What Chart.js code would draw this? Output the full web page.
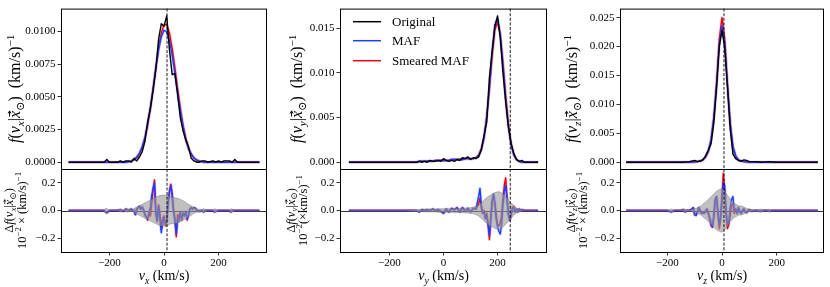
<!DOCTYPE html>
<html>
<head>
<meta charset="utf-8">
<script src="https://cdn.jsdelivr.net/npm/chart.js@4"></script>
<style>
  html, body { margin: 0; padding: 0; background: #fff; }
  #wrap { position: relative; width: 830px; height: 287px; }
  #wrap canvas { position: absolute; left: 0; top: 0; }
</style>
</head>
<body>
<div id="wrap">
  <canvas id="top1" width="830" height="287"></canvas>
  <canvas id="res1" width="830" height="287"></canvas>
  <canvas id="top2" width="830" height="287"></canvas>
  <canvas id="res2" width="830" height="287"></canvas>
  <canvas id="top3" width="830" height="287"></canvas>
  <canvas id="res3" width="830" height="287"></canvas>
</div>
<script>
// ---- data (km/s, (km/s)^-1) ----
const legendNames = ['Original', 'MAF', 'Smeared MAF'];
const sunV = [11.1, 247, 7.25];           // dashed lines
const xTicks = [-200, 0, 200];
const yTicksTop1 = [0, 0.0025, 0.005, 0.0075, 0.01];
const yTicksTop2 = [0, 0.005, 0.01, 0.015];
const yTicksTop3 = [0, 0.005, 0.01, 0.015, 0.02, 0.025];
const yTicksRes = [-0.2, 0, 0.2];

// v_x
const vx1Top = [-350,-300,-250,-220,-210,-200,-170,-160,-150,-140,-130,-120,-110,
  -100,-90,-80,-70,-60,-50,-40,-30,-20,-10,0,10,20,30,40,50,60,70,80,90,100,110,120,130,
  140,150,160,180,190,200,210,220,240,250,260,270,300,350];
const orig1 = [0,0,0,0,0.0002,0,0,0.0001,0,0.0001,0.0001,0,0.0003,
  0.0001,0.0004,0.0008,0.0016,0.0031,0.0041,0.0055,0.0071,0.0094,0.0106,0.0104,0.0112,0.0086,0.0067,0.0068,0.0052,0.0034,0.0024,0.0017,0.0012,0.0003,0.0001,0,0,
  0.0001,0.0001,0,0.0001,0,0.0001,0,0.0001,0.0001,0,0.0002,0,0,0];
const maf1 = [0,0,0,0,0,0,0,0,0,0,0.00004,0.0001,0.0002,
  0.0004,0.0007,0.0012,0.0019,0.0029,0.0042,0.0056,0.0072,0.0086,0.0096,0.0101,0.0100,0.0093,0.0082,0.0068,0.0053,0.0039,0.0027,0.0017,0.0010,0.0006,0.0003,0.00015,0.00007,
  0.00003,0,0,0,0,0,0,0,0,0,0,0,0,0];
const smear1 = [0,0,0,0,0,0,0,0,0,0,0.00004,0.00008,0.00017,
  0.00034,0.00063,0.00111,0.00183,0.00283,0.00412,0.00563,0.00723,0.00872,0.00988,0.01052,0.01052,0.00988,0.00872,0.00723,0.00563,0.00412,0.00283,0.00183,0.00111,0.00063,0.00034,0.00017,0.00008,
  0.00004,0,0,0,0,0,0,0,0,0,0,0,0,0];

const vx1Res = [-350,-300,-250,-220,-215,-210,-200,-170,-160,-150,-140,-130,-120,
  -115,-110,-105,-100,-95,-90,-85,-80,-75,-70,
  -65,-60,-55,-50,-45,-40,-35,-30,-25,-20,
  -15,-10,-5,0,5,10,15,20,25,30,
  35,40,45,50,55,60,65,70,75,80,
  85,90,95,100,105,110,115,
  120,130,140,145,150,160,180,185,190,200,240,245,250,260,300,350];
const band1 = [0,0,0,0,0.015,0.015,0,0,0.01,0,0.01,0.01,0.005,
  0.008,0.015,0.02,0.025,0.03,0.035,0.04,0.045,0.05,0.055,
  0.06,0.065,0.07,0.075,0.08,0.085,0.09,0.095,0.1,0.105,
  0.108,0.11,0.11,0.11,0.11,0.112,0.108,0.1,0.097,0.095,
  0.094,0.092,0.09,0.088,0.085,0.08,0.075,0.07,0.065,0.058,
  0.05,0.045,0.04,0.035,0.028,0.022,0.016,
  0.012,0.008,0.006,0.015,0.008,0,0,0.012,0.01,0,0,0.012,0.01,0,0,0];
const dMaf1 = [0,0,0,0,-0.01,-0.016,0,0,0.005,-0.005,0.01,0,0.01,
  0,0,-0.03,0.01,0.02,0.03,0.01,0.025,0.005,-0.03,
  -0.05,-0.06,-0.01,0.02,0.11,0.16,0.2,-0.02,-0.07,0.03,
  -0.06,-0.16,-0.1,-0.05,-0.09,-0.07,0.04,0.13,0.18,0.11,
  0,-0.07,-0.17,-0.06,-0.08,-0.02,-0.06,-0.02,-0.04,-0.01,
  -0.06,-0.03,0.01,0.02,0.01,0.02,0.015,
  0,-0.005,0,-0.01,0,0,0,-0.01,-0.005,0,0,-0.01,0,0,0,0];
const dSmear1 = [0,0,0,0,-0.01,-0.016,0,0,0.005,-0.005,0.01,0,0.01,
  0,0,-0.03,0.01,0.02,0.03,0.01,0.025,0.005,-0.03,
  -0.05,-0.07,-0.02,-0.04,0.05,0.15,0.22,-0.02,-0.08,0.04,
  -0.03,-0.12,-0.06,-0.04,-0.11,-0.08,0.05,0.14,0.19,0.12,
  0,-0.06,-0.19,-0.03,-0.05,-0.01,-0.07,-0.02,-0.04,-0.01,
  -0.07,-0.03,0.01,0.02,0.01,0.02,0.015,
  0,-0.005,0,-0.01,0,0,0,-0.01,-0.005,0,0,-0.01,0,0,0,0];

// v_y
const vy2Top = [-350,-300,-250,-200,-150,-100,
  -90,-80,-70,-60,-50,-40,-30,-20,-10,0,10,20,30,40,50,60,70,80,90,100,110,120,130,140,
  150,160,170,180,190,200,210,220,230,240,250,260,270,280,290,300,350];
const orig2 = [0,0,0,0,0,0,
  0.0001,0,0.0001,0,0.0002,0.0001,0.0001,0.0002,0.0001,0.0004,0.0002,0.0001,0.0002,0.0001,0.0003,0.0002,0.0005,0.0004,0.0006,0.0003,0.0005,0.0004,0.0006,0.0014,
  0.0030,0.0045,0.0095,0.0124,0.0152,0.0164,0.0140,0.0101,0.0068,0.0040,0.0021,0.0010,0.0003,0.0001,0.0002,0,0];
const maf2 = [0,0,0,0,0,0,
  0.0001,0.0001,0.0001,0.0001,0.0001,0.0001,0.0002,0.0002,0.0002,0.0002,0.0002,0.0002,0.0003,0.0003,0.0003,0.0003,0.0003,0.0004,0.0004,0.0004,0.0004,0.0005,0.0007,0.0014,
  0.0027,0.0051,0.0085,0.0124,0.0154,0.0161,0.0143,0.0108,0.0071,0.0040,0.0020,0.0008,0.0003,0.0001,0,0,0];
const smear2 = [0,0,0,0,0,0,
  0.0001,0.0001,0.0001,0.0001,0.0001,0.0001,0.0002,0.0002,0.0002,0.0002,0.0002,0.0002,0.0003,0.0003,0.0003,0.0003,0.0003,0.0004,0.0004,0.0004,0.0004,0.0005,0.0008,0.0015,
  0.0028,0.0051,0.0082,0.0119,0.0148,0.0157,0.0143,0.0112,0.0075,0.0043,0.0021,0.0009,0.0003,0.0001,0,0,0];

const vy2Res = [-350,-300,-250,-200,-150,-100,
  -90,-80,-70,-60,-50,-40,-30,-20,-10,0,10,20,30,40,50,60,70,80,90,100,110,120,130,
  135,140,145,150,155,160,165,170,175,180,
  185,190,195,200,205,210,215,220,225,230,
  235,240,245,250,255,260,265,270,275,280,
  285,290,300,350];
const band2 = [0,0,0,0,0,0.005,
  0.008,0.008,0.008,0.01,0.01,0.01,0.01,0.012,0.012,0.012,0.012,0.012,0.013,0.014,0.015,0.015,0.016,0.017,0.018,0.02,0.024,0.03,0.04,
  0.048,0.055,0.065,0.075,0.085,0.092,0.1,0.106,0.112,0.118,
  0.123,0.128,0.132,0.135,0.135,0.132,0.127,0.12,0.11,0.1,
  0.09,0.08,0.068,0.056,0.045,0.035,0.026,0.018,0.012,0.008,
  0.008,0.005,0,0];
const dMaf2 = [0,0,0,0,0,0,
  -0.01,0.005,0,0.005,0,0.01,0,0.005,-0.005,-0.02,0.01,-0.01,0.015,0.005,0.02,-0.01,0.02,-0.005,0.015,-0.01,0.015,0.01,0.1,
  0.16,0.04,-0.02,-0.01,-0.06,-0.04,-0.1,-0.18,-0.07,0.07,
  0.12,0.06,-0.06,-0.12,-0.15,-0.17,-0.1,0.04,0.14,0.18,
  0.08,-0.03,-0.07,-0.03,0.02,0.02,-0.01,0.01,-0.01,0.01,
  0,0.005,0,0];
const dSmear2 = [0,0,0,0,0,0,
  -0.01,0.005,0,0.005,0,0.01,0,0.005,-0.005,-0.02,0.01,-0.01,0.015,0.005,0.02,-0.01,0.02,-0.005,0.015,-0.01,0.015,0.01,0.05,
  0.09,0.02,-0.02,0,-0.05,-0.02,-0.1,-0.21,-0.05,0.06,
  0.11,0.05,-0.04,-0.1,-0.11,-0.09,-0.04,0.08,0.18,0.235,
  0.1,-0.03,-0.07,-0.04,0.02,0.03,-0.01,0.01,-0.01,0.01,
  0,0.005,0,0];

// v_z
const vz3Top = [-350,-300,-250,-200,-150,
  -120,-100,-90,-80,-70,-60,-50,-40,-30,-20,-10,0,10,20,30,40,50,60,70,80,90,100,
  120,150,170,200,250,300,350];
const orig3 = [0,0,0,0,0,
  0.0001,0.0003,0.0001,0.0002,0.0004,0.0011,0.0021,0.0032,0.0068,0.0128,0.0200,0.0228,0.0198,0.0130,0.0058,0.0014,0.0006,0.0003,0.0002,0.0004,0.0003,0.0001,
  0.0001,0,0.0001,0,0,0,0];
const maf3 = [0,0,0,0,0,
  0,0.00005,0.0001,0.0002,0.0004,0.0009,0.0019,0.0039,0.0077,0.0133,0.0202,0.0236,0.0206,0.0134,0.0068,0.0027,0.0011,0.0004,0.0002,0.0001,0.00005,0,
  0,0,0,0,0,0,0];
const smear3 = [0,0,0,0,0,
  0,0.00005,0.0001,0.0002,0.0004,0.0009,0.0018,0.0038,0.0076,0.0136,0.0212,0.0250,0.0213,0.0134,0.0066,0.0026,0.0010,0.0004,0.0002,0.0001,0.00005,0,
  0,0,0,0,0,0,0];

const vz3Res = [-350,-300,-250,-200,-185,-180,-175,-150,-140,-135,-130,-120,-110,
  -105,-100,-95,-90,-85,-80,-75,-70,-65,-60,
  -55,-50,-45,-40,-35,-30,-25,-20,-15,-10,
  -5,0,5,10,15,20,25,30,35,40,
  45,50,55,60,65,70,75,80,85,90,
  95,100,105,110,115,120,
  130,140,150,160,170,175,180,200,250,300,350];
const band3 = [0,0,0,0,0.01,0.008,0,0,0.005,0.01,0.005,0.004,0.005,
  0.01,0.012,0.015,0.02,0.025,0.03,0.035,0.045,0.055,0.06,
  0.07,0.08,0.09,0.1,0.11,0.12,0.13,0.14,0.145,0.15,
  0.155,0.155,0.15,0.14,0.125,0.11,0.095,0.08,0.07,0.06,
  0.05,0.045,0.04,0.035,0.032,0.033,0.03,0.025,0.02,0.015,
  0.012,0.01,0.008,0.006,0.005,0.004,
  0.006,0.01,0.005,0,0.008,0.01,0,0,0,0,0];
const dMaf3 = [0,0,0,0,-0.01,-0.005,0,0,0.005,-0.01,0,0,0.01,
  0.02,-0.03,-0.035,-0.01,0.02,0,-0.02,-0.015,-0.02,-0.005,
  0.01,-0.02,-0.05,-0.09,-0.12,-0.04,0.07,0.1,0,-0.1,
  -0.04,0.08,0.2,0.18,0,-0.1,-0.08,0.02,0.08,0.1,
  0,0.01,-0.02,0.02,-0.01,-0.02,0,0.01,-0.01,-0.015,
  0,0.005,0,-0.005,0,0,
  0,-0.005,0,0,0,-0.005,0,0,0,0,0];
const dSmear3 = [0,0,0,0,-0.01,-0.005,0,0,0.005,-0.01,0,0,0.01,
  0.02,-0.03,-0.035,-0.01,0.02,0,-0.02,-0.015,-0.02,-0.005,
  0.01,-0.02,-0.06,-0.11,-0.12,-0.05,0.08,0.1,-0.03,-0.13,
  -0.06,0.1,0.27,0.12,-0.03,-0.13,-0.1,-0.03,0.04,0.05,
  -0.02,0.01,-0.02,0.02,-0.01,-0.02,0,0.01,-0.01,-0.015,
  0,0.005,0,-0.005,0,0,
  0,-0.005,0,0,0,-0.005,0,0,0,0,0];

// ---- look ----
const BLUE = '#1f3dff', RED = '#f00010';
const FAM = '"Liberation Serif", "DejaVu Serif", serif';
const tickFont = { family: FAM, size: 11 };
const AXW = 50, XAXH = 30;
const TOP_Y = [4, 169], RES_Y = [169, 252];

const panels = [
  { n: 1, c: 'x', left: 61, right: 267, xr: 378, v: vx1Top, orig: orig1, maf: maf1, smear: smear1,
    yt: yTicksTop1, dig: 4, ymin: -0.00052, ymax: 0.01176,
    rv: vx1Res, band: band1, dMaf: dMaf1, dSmear: dSmear1,
    topLabX: 15, resLabX: [9, 21.5], unit2: 'x' },
  { n: 2, c: 'y', left: 340, right: 547, xr: 383, v: vy2Top, orig: orig2, maf: maf2, smear: smear2,
    yt: yTicksTop2, dig: 3, ymin: -0.00076, ymax: 0.01721,
    rv: vy2Res, band: band2, dMaf: dMaf2, dSmear: dSmear2,
    topLabX: 297, resLabX: [290.5, 303], unit2: 'in' },
  { n: 3, c: 'z', left: 620, right: 824, xr: 373, v: vz3Top, orig: orig3, maf: maf3, smear: smear3,
    yt: yTicksTop3, dig: 3, ymin: -0.00118, ymax: 0.02656,
    rv: vz3Res, band: band3, dMaf: dMaf3, dSmear: dSmear3,
    topLabX: 572, resLabX: [570.5, 583], unit2: 'x' }
];

const pts = (xs, ys) => xs.map((x, i) => ({ x: x, y: ys[i] }));
const fmt = (v, d) => Number(v).toFixed(d).replace('-', '\u2212');

// rich text: kinds r, i, i_ (italic sub), r_ (roman sub), r^ (roman sup), iv (italic + vector arrow)
function drawRich(ctx, parts, size, cx, cy, rot) {
  ctx.save();
  ctx.translate(cx, cy);
  ctx.rotate(rot);
  const items = parts.map(([t, k]) => {
    const small = k.endsWith('_') || k.endsWith('^');
    const font = (k[0] === 'i' ? 'italic ' : '') + (small ? size * 0.7 : size) + 'px ' + FAM;
    const dy = k.endsWith('_') ? size * 0.22 : k.endsWith('^') ? -size * 0.4 : 0;
    ctx.font = font;
    return { t, k, font, dy, w: ctx.measureText(t).width };
  });
  const total = items.reduce((s, it) => s + it.w, 0);
  let x = -total / 2;
  const base = size * 0.32;
  ctx.fillStyle = '#000';
  ctx.strokeStyle = '#000';
  ctx.textAlign = 'left';
  ctx.textBaseline = 'alphabetic';
  items.forEach(it => {
    ctx.font = it.font;
    ctx.fillText(it.t, x, base + it.dy);
    if (it.k === 'iv') {
      const ay = base - size * 0.66, x0 = x + it.w * 0.2, x1 = x + it.w * 1.0;
      ctx.lineWidth = size * 0.06;
      ctx.beginPath();
      ctx.moveTo(x0, ay); ctx.lineTo(x1, ay);
      ctx.moveTo(x1 - size * 0.16, ay - size * 0.09); ctx.lineTo(x1, ay); ctx.lineTo(x1 - size * 0.16, ay + size * 0.09);
      ctx.stroke();
    }
    x += it.w;
  });
  ctx.restore();
}

const decoInfo = {};

const deco = {
  id: 'deco',
  beforeDatasetsDraw(chart) {
    const d = decoInfo[chart.canvas.id];
    if (!d.res) return;
    const ctx = chart.ctx, a = chart.chartArea;
    const y0 = Math.round(chart.scales.y.getPixelForValue(0)) + 0.5;
    ctx.save();
    ctx.strokeStyle = '#333';
    ctx.lineWidth = 1;
    ctx.beginPath(); ctx.moveTo(a.left, y0); ctx.lineTo(a.right, y0); ctx.stroke();
    ctx.restore();
  },
  afterDraw(chart) {
    const d = decoInfo[chart.canvas.id];
    const p = d.p, ctx = chart.ctx, a = chart.chartArea;
    ctx.save();
    // dashed sun velocity
    const xs = chart.scales.x.getPixelForValue(d.sun);
    ctx.strokeStyle = '#000';
    ctx.lineWidth = 0.9;
    ctx.setLineDash([3, 1.6]);
    ctx.beginPath(); ctx.moveTo(xs, a.top); ctx.lineTo(xs, a.bottom); ctx.stroke();
    ctx.setLineDash([]);
    // frame
    ctx.lineWidth = 1;
    ctx.strokeRect(a.left + 0.5, a.top + 0.5, a.right - a.left - 1, a.bottom - a.top);
    ctx.restore();

    const c = p.c;
    if (!d.res) {
      drawRich(ctx, [['f', 'i'], ['(', 'r'], ['v', 'i'], [c, 'i_'], ['|', 'r'], ['x', 'iv'], ['\u2299', 'r_'], [')', 'r'],
        ['  (km/s)', 'r'], ['\u22121', 'r^']], 16, p.topLabX, (a.top + a.bottom) / 2, -Math.PI / 2);
      if (p.n === 2) {
        const rows = [['#000', 21.7], [BLUE, 40.7], [RED, 60.7]];
        ctx.save();
        rows.forEach(([col, y], i) => {
          ctx.strokeStyle = col; ctx.lineWidth = 1.5;
          ctx.beginPath(); ctx.moveTo(353, y); ctx.lineTo(381, y); ctx.stroke();
          ctx.fillStyle = '#000'; ctx.font = '13px ' + FAM;
          ctx.textBaseline = 'middle'; ctx.textAlign = 'left';
          ctx.fillText(legendNames[i], 392, y + 0.5);
        });
        ctx.restore();
      }
    } else {
      const yc = (a.top + a.bottom) / 2;
      drawRich(ctx, [['\u0394', 'r'], ['f', 'i'], ['(', 'r'], ['v', 'i'], [c, 'i_'], ['|', 'r'], ['x', 'iv'], ['\u2299', 'r_'], [')', 'r']],
        12.5, p.resLabX[0], yc, -Math.PI / 2);
      const line2 = p.unit2 === 'in'
        ? [['10', 'r'], ['\u22122', 'r^'], ['(\u00d7km/s)', 'r'], ['\u22121', 'r^']]
        : [['10', 'r'], ['\u22122', 'r^'], [' \u00d7 (km/s)', 'r'], ['\u22121', 'r^']];
      drawRich(ctx, line2, 12.5, p.resLabX[1], yc, -Math.PI / 2);
      drawRich(ctx, [['v', 'i'], [c, 'i_'], [' (km/s)', 'r']], 14, (a.left + a.right) / 2, 276, 0);
    }
  }
};

function yAxis(min, max, ticks, dig) {
  return {
    type: 'linear', min: min, max: max,
    afterBuildTicks: s => { s.ticks = ticks.map(v => ({ value: v })); },
    afterFit: s => { s.width = AXW; },
    ticks: { font: tickFont, color: '#000', padding: 2, autoSkip: false, callback: v => fmt(v, dig) },
    grid: { drawOnChartArea: false, tickLength: 3.5, tickColor: '#000', tickWidth: 0.8 },
    border: { display: false }
  };
}

function baseOptions(p, yr, scales) {
  return {
    responsive: false, animation: false, events: [], devicePixelRatio: 1,
    layout: { autoPadding: false, padding: { left: p.left - AXW, right: 830 - p.right, top: yr[0], bottom: 287 - yr[1] } },
    elements: { point: { radius: 0 }, line: { tension: 0, fill: false, borderJoinStyle: 'round' } },
    plugins: { legend: { display: false }, tooltip: { enabled: false } },
    scales: scales
  };
}

panels.forEach((p, i) => {
  // top panel
  decoInfo['top' + p.n] = { p: p, res: false, sun: sunV[i] };
  new Chart(document.getElementById('top' + p.n), {
    type: 'line',
    data: {
      datasets: [
        { data: pts(p.v, p.orig), borderColor: '#000', borderWidth: 1.4 },
        { data: pts(p.v, p.maf), borderColor: 'rgba(31,61,255,0.2)', borderWidth: 3 },
        { data: pts(p.v, p.maf), borderColor: BLUE, borderWidth: 1.4 },
        { data: pts(p.v, p.smear), borderColor: 'rgba(240,0,16,0.2)', borderWidth: 3 },
        { data: pts(p.v, p.smear), borderColor: RED, borderWidth: 1.4 }
      ]
    },
    options: baseOptions(p, TOP_Y, {
      x: { type: 'linear', min: -p.xr, max: p.xr, display: false },
      y: yAxis(p.ymin, p.ymax, p.yt, p.dig)
    }),
    plugins: [deco]
  });

  // residual panel
  const opts = baseOptions(p, RES_Y, {
    x: {
      type: 'linear', min: -p.xr, max: p.xr,
      afterBuildTicks: s => { s.ticks = xTicks.map(v => ({ value: v })); },
      afterFit: s => { s.height = XAXH; },
      ticks: { font: tickFont, color: '#000', padding: 1, autoSkip: false, maxRotation: 0, callback: v => fmt(v, 0) },
      grid: { drawOnChartArea: false, tickLength: 3.5, tickColor: '#000', tickWidth: 0.8 },
      border: { display: false }
    },
    y: yAxis(-0.3, 0.3, yTicksRes, 1)
  });
  opts.layout.padding.bottom = 287 - RES_Y[1] - XAXH;
  decoInfo['res' + p.n] = { p: p, res: true, sun: sunV[i] };
  new Chart(document.getElementById('res' + p.n), {
    type: 'line',
    data: {
      datasets: [
        { data: pts(p.rv, p.band), borderColor: 'rgba(100,100,100,0.55)', borderWidth: 0.8,
          backgroundColor: 'rgba(150,150,150,0.6)', fill: '+1' },
        { data: pts(p.rv, p.band.map(b => -b)), borderColor: 'rgba(100,100,100,0.55)', borderWidth: 0.8 },
        { data: pts(p.rv, p.dMaf), borderColor: 'rgba(31,61,255,0.2)', borderWidth: 3 },
        { data: pts(p.rv, p.dMaf), borderColor: BLUE, borderWidth: 1.4 },
        { data: pts(p.rv, p.dSmear), borderColor: 'rgba(240,0,16,0.2)', borderWidth: 3 },
        { data: pts(p.rv, p.dSmear), borderColor: RED, borderWidth: 1.4 }
      ]
    },
    options: opts,
    plugins: [deco]
  });
});
</script>
</body>
</html>
